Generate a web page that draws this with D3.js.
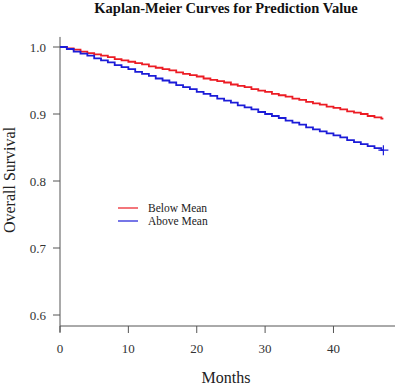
<!DOCTYPE html>
<html>
<head>
<meta charset="utf-8">
<script src="https://cdn.jsdelivr.net/npm/d3@7"></script>
<style>
body { margin: 0; background: #fff; }
text { font-family: "Liberation Serif", "DejaVu Serif", serif; }
</style>
</head>
<body>
<svg width="397" height="385"></svg>
<script>
// survival estimates at each month
var months = [0,1,2,3,4,5,6,7,8,9,10,11,12,13,14,15,16,17,18,19,20,21,22,23,24,25,26,27,28,29,30,31,32,33,34,35,36,37,38,39,40,41,42,43,44,45,46,47];
var belowMean = [1.000,0.998,0.996,0.993,0.991,0.989,0.987,0.985,0.982,0.980,0.978,0.976,0.974,0.971,0.969,0.967,0.965,0.962,0.960,0.958,0.956,0.953,0.951,0.949,0.947,0.944,0.942,0.940,0.937,0.935,0.933,0.930,0.928,0.926,0.923,0.921,0.918,0.916,0.914,0.911,0.909,0.907,0.904,0.902,0.900,0.897,0.895,0.893];
var aboveMean = [1.000,0.997,0.993,0.990,0.987,0.983,0.980,0.977,0.973,0.970,0.967,0.963,0.960,0.957,0.953,0.950,0.947,0.943,0.940,0.937,0.933,0.930,0.927,0.923,0.920,0.917,0.913,0.910,0.907,0.903,0.900,0.897,0.894,0.890,0.887,0.884,0.880,0.877,0.874,0.871,0.868,0.865,0.861,0.858,0.855,0.852,0.849,0.846];
var xTicks = [0, 10, 20, 30, 40];
var yTicks = [0.6, 0.7, 0.8, 0.9, 1.0];
var seriesNames = ['Below Mean', 'Above Mean'];
var seriesColors = ['#ec1c24', '#1c1cd8'];

var svg = d3.select('svg');

var x = d3.scaleLinear()
	.domain([0, 49])
	.range([60, 395]);

var y = d3.scaleLinear()
	.domain([0.6, 1.0])
	.range([315, 47]);

var axisColor = '#555';

// y axis
svg.append('line')
	.attr('x1', 60).attr('x2', 60)
	.attr('y1', y(1.015)).attr('y2', 332)
	.attr('stroke', axisColor);

var yAxis = svg.append('g');
yAxis.selectAll('line')
	.data(yTicks)
	.enter().append('line')
	.attr('x1', 53).attr('x2', 60)
	.attr('y1', function(d){ return y(d); })
	.attr('y2', function(d){ return y(d); })
	.attr('stroke', axisColor);
yAxis.selectAll('text')
	.data(yTicks)
	.enter().append('text')
	.attr('x', 46)
	.attr('y', function(d){ return y(d) + 4.5; })
	.attr('text-anchor', 'end')
	.attr('font-size', 13)
	.attr('fill', '#333')
	.text(function(d){ return d3.format('.1f')(d); });

// x axis
svg.append('line')
	.attr('x1', 60).attr('x2', 395)
	.attr('y1', 326).attr('y2', 326)
	.attr('stroke', axisColor);

var xAxis = svg.append('g');
xAxis.selectAll('line')
	.data(xTicks)
	.enter().append('line')
	.attr('x1', function(d){ return x(d); })
	.attr('x2', function(d){ return x(d); })
	.attr('y1', 326).attr('y2', 333)
	.attr('stroke', axisColor);
xAxis.selectAll('text')
	.data(xTicks)
	.enter().append('text')
	.attr('x', function(d){ return x(d); })
	.attr('y', 353)
	.attr('text-anchor', 'middle')
	.attr('font-size', 13)
	.attr('fill', '#333')
	.text(function(d){ return d; });

// curves
var step = d3.line()
	.x(function(d){ return x(d[0]); })
	.y(function(d){ return y(d[1]); })
	.curve(d3.curveStepAfter);

[belowMean, aboveMean].forEach(function(vals, i){
	var pts = months.map(function(m, j){ return [m, vals[j]]; });
	pts.push([47.3, vals[vals.length - 1]]);
	svg.append('path')
		.attr('d', step(pts))
		.style('fill', 'none')
		.style('stroke', seriesColors[i])
		.style('stroke-width', 1.8);
});

// censor mark at end of the above-mean curve
var cx = x(47.3), cy = y(aboveMean[aboveMean.length - 1]);
svg.append('path')
	.attr('d', 'M' + (cx - 5) + ',' + cy + 'H' + (cx + 5) + 'M' + cx + ',' + (cy - 5) + 'V' + (cy + 5))
	.style('stroke', seriesColors[1])
	.style('stroke-width', 1.2);

// legend
var legend = svg.append('g');
seriesNames.forEach(function(name, i){
	var ly = 208 + i * 13;
	legend.append('line')
		.attr('x1', 118).attr('x2', 138)
		.attr('y1', ly).attr('y2', ly)
		.attr('stroke', seriesColors[i])
		.attr('stroke-width', 1.2);
	legend.append('text')
		.attr('x', 148)
		.attr('y', ly + 4)
		.attr('font-size', 11.5)
		.attr('fill', '#222')
		.text(name);
});

// titles
svg.append('text')
	.attr('x', 226).attr('y', 12.5)
	.attr('text-anchor', 'middle')
	.attr('font-size', 14.5)
	.attr('font-weight', 'bold')
	.attr('fill', '#111')
	.text('Kaplan-Meier Curves for Prediction Value');

svg.append('text')
	.attr('x', 226).attr('y', 383)
	.attr('text-anchor', 'middle')
	.attr('font-size', 16)
	.attr('fill', '#222')
	.text('Months');

svg.append('text')
	.attr('transform', 'translate(15,180) rotate(-90)')
	.attr('text-anchor', 'middle')
	.attr('font-size', 16)
	.attr('fill', '#222')
	.text('Overall Survival');
</script>
</body>
</html>
